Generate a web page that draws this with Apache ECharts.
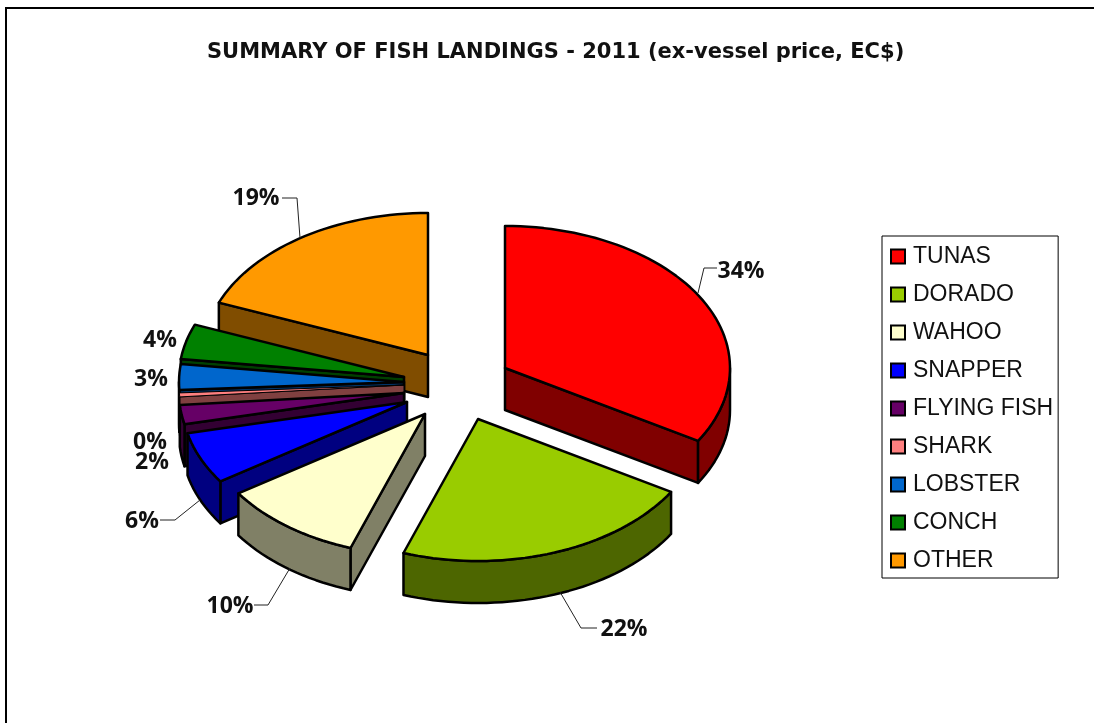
<!DOCTYPE html>
<html>
<head>
    <meta charset="utf-8">
    <title>Fish Landings 2011</title>
    <script src="https://cdn.jsdelivr.net/npm/echarts@6/dist/echarts.min.js"></script>
    <style>
        html, body { margin: 0; padding: 0; background: #fff; overflow: hidden; }
        #main { width: 1094px; height: 723px; }
    </style>
</head>
<body>
    <div id="main"></div>
    <script type="text/javascript">
        // share of landings value (percent)
        var categories = ["TUNAS", "DORADO", "WAHOO", "SNAPPER", "FLYING FISH", "SHARK", "LOBSTER", "CONCH", "OTHER"];
        var shares = [33.6, 21.8, 10.2, 5.9, 2.2, 0.45, 2.9, 4.0, 19.0];

        var topColors = ["#FF0000", "#99CC00", "#FFFFCC", "#0000FF", "#660066", "#FF8080", "#0066CC", "#008000", "#FF9900"];
        var wallColors = ["#800000", "#4D6600", "#808066", "#000080", "#330033", "#804040", "#003366", "#004000", "#804D00"];

        // pie shape on screen
        var rx = 225, ry = 142, depth = 42;
        // where each exploded slice has its tip
        var tips = [[505, 368], [478, 419], [425, 414], [407, 402], [404, 393], [404, 385], [404, 382], [404, 377], [428, 355]];
        // label centre, then leader line
        var labelPos = [[741, 271], [624, 629], [230, 606], [142, 521], [152, 462], [150, 442], [151, 379], [160, 340], [256, 198]];
        var leaders = [
            [[717, 268], [704, 268], [698, 293]],
            [[597, 628], [581, 628], [560, 592]],
            [[254, 605], [268, 605], [290, 568]],
            [[160, 520], [175, 520], [200, 500]],
            null, null, null, null,
            [[282, 198], [297, 198], [300, 238]]
        ];
        // back slices are painted first
        var paintRank = [7, 8, 7, 6, 5, 4, 3, 2, 1];

        var total = shares.reduce(function (a, b) { return a + b; }, 0);

        function rim(tip, deg, drop) {
            var t = deg * Math.PI / 180;
            return [tip[0] + rx * Math.sin(t), tip[1] - ry * Math.cos(t) + (drop || 0)];
        }

        function arc(tip, from, to, drop) {
            var pts = [];
            var n = Math.max(1, Math.ceil((to - from) / 2));
            for (var i = 0; i <= n; i++) pts.push(rim(tip, from + (to - from) * i / n, drop));
            return pts;
        }

        function face(points, fill, width) {
            return {
                type: "polygon",
                shape: { points: points },
                style: { fill: fill, stroke: "#000", lineWidth: width, lineJoin: "round" }
            };
        }

        function radialWall(tip, deg, fill, width) {
            var p = rim(tip, deg);
            return face([tip, p, [p[0], p[1] + depth], [tip[0], tip[1] + depth]], fill, width);
        }

        function sliceRenderer(index) {
            var before = shares.slice(0, index).reduce(function (a, b) { return a + b; }, 0);
            return function (params, api) {
                var from = before / total * 360;
                var to = from + api.value(0) / total * 360;
                var tip = tips[index];
                var kids = [];
                // a full outline would swallow the sliver
                var width = api.value(0) < 1 ? 1 : 2.5;

                // walls first, the top goes over them
                if (Math.sin(from * Math.PI / 180) < 0) kids.push(radialWall(tip, from, wallColors[index], width));
                if (Math.sin(to * Math.PI / 180) > 0) kids.push(radialWall(tip, to, wallColors[index], width));
                var a = Math.max(from, 90), b = Math.min(to, 270);
                if (b > a) {
                    kids.push(face(arc(tip, a, b).concat(arc(tip, a, b, depth).reverse()), wallColors[index], width));
                }
                kids.push(face([tip].concat(arc(tip, from, to)), topColors[index], width));

                if (leaders[index]) {
                    kids.push({
                        type: "polyline",
                        shape: { points: leaders[index] },
                        style: { fill: null, stroke: "#222", lineWidth: 1 }
                    });
                }
                kids.push({
                    type: "text",
                    style: {
                        x: labelPos[index][0],
                        y: labelPos[index][1],
                        text: api.value(0).toFixed(0) + "%",
                        fill: "#111",
                        font: "bold 23px 'Open Sans'",
                        align: "center",
                        verticalAlign: "middle"
                    }
                });
                return { type: "group", children: kids };
            };
        }

        var series = categories.map(function (name, i) {
            return {
                name: name,
                type: "custom",
                coordinateSystem: "none",
                silent: true,
                z: 2 + paintRank[i],
                itemStyle: { color: topColors[i] },
                renderItem: sliceRenderer(i),
                data: [[shares[i]]]
            };
        });

        var option = {
            backgroundColor: "#fff",
            animation: false,
            title: {
                text: "SUMMARY OF FISH LANDINGS - 2011 (ex-vessel price, EC$)",
                left: 207,
                top: 42,
                padding: 0,
                textStyle: { fontFamily: "DejaVu Sans", fontWeight: "bold", fontSize: 21, color: "#111" }
            },
            legend: {
                orient: "vertical",
                left: 882,
                top: 236,
                padding: [9, 5, 6, 8],
                itemWidth: 14,
                itemHeight: 14,
                itemGap: 15,
                icon: "rect",
                borderColor: "#000",
                borderWidth: 1,
                backgroundColor: "#fff",
                selectedMode: false,
                itemStyle: { borderColor: "#000", borderWidth: 2 },
                textStyle: { fontFamily: "Liberation Sans", fontSize: 23, color: "#111", padding: [0, 0, 0, 3] },
                data: categories
            },
            graphic: [{
                type: "rect",
                silent: true,
                z: -1,
                shape: { x: 6, y: 8, width: 2000, height: 2000 },
                style: { fill: "#fff", stroke: "#000", lineWidth: 2 }
            }],
            series: series
        };

        var myChart = echarts.init(document.getElementById("main"), null, { renderer: "canvas" });
        myChart.setOption(option);
    </script>
</body>
</html>
